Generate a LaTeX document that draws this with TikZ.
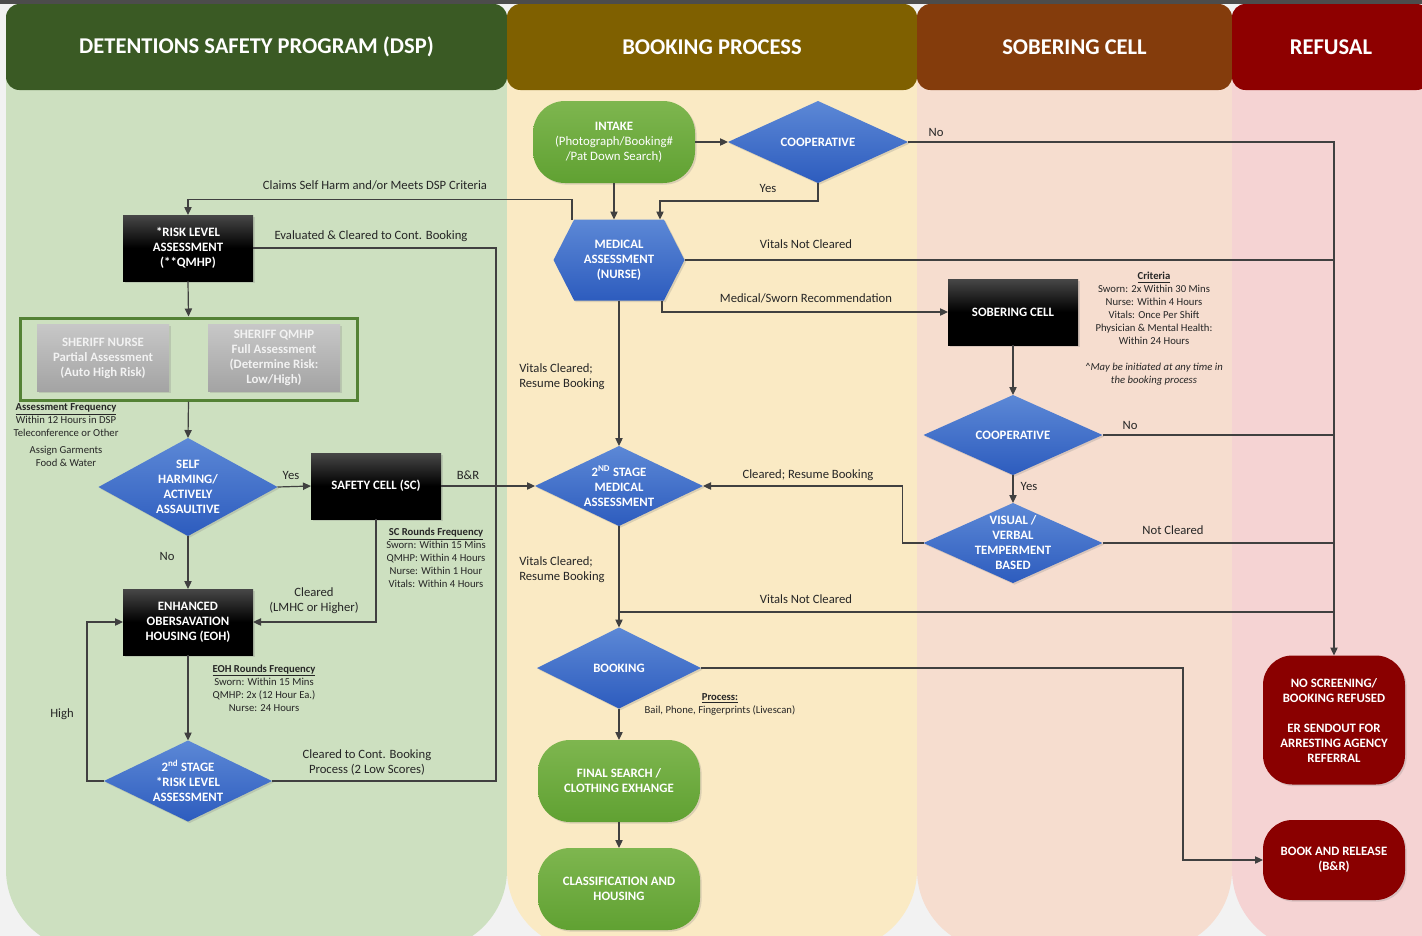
\documentclass[tikz,border=0pt]{standalone}
\usepackage{fontspec}
\setmainfont{Carlito}
\usetikzlibrary{arrows.meta,calc,positioning,shapes.geometric,shapes.symbols,shadows}

\definecolor{pagebg}{HTML}{F2F2F2}
\definecolor{dspdark}{HTML}{3A5A24}
\definecolor{dsplight}{HTML}{CDE0C0}
\definecolor{bookdark}{HTML}{7F6000}
\definecolor{booklight}{HTML}{FAEAC4}
\definecolor{sobdark}{HTML}{843C0C}
\definecolor{soblight}{HTML}{F6DDCF}
\definecolor{refdark}{HTML}{8E0000}
\definecolor{reflight}{HTML}{F5D3D3}
\definecolor{flowline}{HTML}{404040}
\definecolor{decitop}{HTML}{5C88D6}
\definecolor{decibot}{HTML}{2D5CBE}
\definecolor{termtop}{HTML}{7EB64F}
\definecolor{termbot}{HTML}{60A132}
\definecolor{framegreen}{HTML}{548235}
\definecolor{refbox}{HTML}{8A0000}
\definecolor{textdark}{HTML}{262626}

\newcommand{\boxfont}{\fontsize{9.6}{11.25}\selectfont\bfseries}
\newcommand{\lblfont}{\fontsize{9.5}{11.25}\selectfont}
\newcommand{\notefont}{\fontsize{8}{9.75}\selectfont}
\newcommand{\headfont}{\fontsize{16.9}{18}\selectfont\bfseries}

\tikzset{
  flow/.style={draw=flowline, line width=0.9pt},
  arr/.style={flow, -{Triangle[length=6pt,width=5.5pt]}},
  softshadow/.style={drop shadow={opacity=0.25,shadow xshift=1.2pt,shadow yshift=-1.2pt}},
  decision/.style={diamond, inner sep=0pt, outer sep=0pt, top color=decitop, bottom color=decibot, softshadow},
  dectext/.style={text=white, font=\boxfont, align=center, inner sep=0pt},
  hexa/.style={signal, signal to=east and west, signal pointer angle=126, inner sep=0pt, outer sep=0pt,
    minimum width=98.25pt, minimum height=60.75pt, top color=decitop, bottom color=decibot, softshadow},
  blackbox/.style={rectangle, inner sep=0pt, outer sep=0pt, minimum width=97.5pt, minimum height=49.5pt,
    top color=black!72, bottom color=black, middle color=black, text=white, font=\boxfont, align=center, softshadow},
  graybox/.style={rectangle, inner sep=0pt, minimum width=99pt, minimum height=50.25pt,
    top color=black!22, bottom color=black!36, text=white!95!black, font=\boxfont, align=center, softshadow},
  terminal/.style={rectangle, rounded corners=24pt, inner sep=0pt, outer sep=0pt, minimum width=121.5pt, minimum height=61.5pt,
    top color=termtop, bottom color=termbot, text=white, font=\boxfont, align=center, softshadow},
  refusalbox/.style={rectangle, rounded corners=22pt, inner sep=0pt, outer sep=0pt, minimum width=106.5pt,
    fill=refbox, text=white, font=\boxfont, align=center, softshadow},
  header/.style={rectangle, rounded corners=10pt, minimum height=64.5pt, text=white, font=\headfont},
  lbl/.style={font=\lblfont, text=textdark, inner sep=0pt, align=center},
  note/.style={font=\notefont, text=textdark, inner sep=0pt, align=center},
}

\begin{document}
\begin{tikzpicture}[x=0.75pt,y=0.75pt,yscale=-1,xscale=1]
\useasboundingbox (0,0) rectangle (1422,936);

%Lanes
\fill[pagebg] (0,0) rectangle (1422,936);
\begin{scope}
\clip (0,0) rectangle (1422,936);
\fill[dsplight, rounded corners=60pt] (6,60) rectangle (507,950);
\fill[dsplight] (6,60) rectangle (507,300);
\fill[booklight, rounded corners=60pt] (507,60) rectangle (917,950);
\fill[booklight] (507,60) rectangle (917,300);
\fill[soblight, rounded corners=60pt] (917,60) rectangle (1232,950);
\fill[soblight] (917,60) rectangle (1232,300);
\fill[reflight, rounded corners=60pt] (1232,60) rectangle (1480,950);
\fill[reflight] (1232,60) rectangle (1480,300);
\end{scope}
\fill[black!70] (0,0) rectangle (1422,3.5);

%Headers
\node[header, fill=dspdark, minimum width=375.75pt] (dsphead) at (256.5,47) {DETENTIONS SAFETY PROGRAM (DSP)};
\node[header, fill=bookdark, minimum width=307.5pt] (bookhead) at (712,47) {BOOKING PROCESS};
\node[header, fill=sobdark, minimum width=236.25pt] (sobhead) at (1074.5,47) {SOBERING CELL};
\node[header, fill=refdark, minimum width=148.5pt] (refhead) at (1331,47) {REFUSAL};

%Booking Process Nodes
\node[terminal] (intake) at (614,142) {INTAKE\\\mdseries(Photograph/Booking\#\\\mdseries/Pat Down Search)};
\node[decision, minimum width=135pt, minimum height=61.5pt, label={[dectext]center:COOPERATIVE}] (coopa) at (818,142) {};
\node[hexa, label={[dectext]center:{MEDICAL\\ASSESSMENT\\(NURSE)}}] (medical) at (619,260) {};
\node[decision, minimum width=126pt, minimum height=60pt, label={[dectext]center:{2\textsuperscript{ND} STAGE\\MEDICAL\\ASSESSMENT}}] (stagemed) at (619,486) {};
\node[decision, minimum width=123pt, minimum height=60.75pt, label={[dectext]center:BOOKING}] (booking) at (619,668) {};
\node[terminal] (finalsearch) at (619,781) {FINAL SEARCH /\\CLOTHING EXHANGE};
\node[terminal] (classhousing) at (619,889) {CLASSIFICATION AND\\HOUSING};

%DSP Nodes
\node[blackbox] (risk) at (188,248) {*RISK LEVEL\\ASSESSMENT\\(**QMHP)};
\node[draw=framegreen, line width=2.25pt, minimum width=252.75pt, minimum height=61.5pt, inner sep=0pt] (riskframe) at (188.5,359) {};
\node[graybox] (sheriffnurse) at (103,358) {SHERIFF NURSE\\Partial Assessment\\(Auto High Risk)};
\node[graybox] (sheriffqmhp) at (274,358) {SHERIFF QMHP\\Full Assessment\\(Determine Risk:\\Low/High)};
\node[decision, minimum width=134.25pt, minimum height=73.5pt, label={[dectext]center:{SELF\\HARMING/\\ACTIVELY\\ASSAULTIVE}}] (selfharm) at (188,487) {};
\node[blackbox] (safety) at (376,486) {SAFETY CELL (SC)};
\node[blackbox] (eoh) at (188,622) {ENHANCED\\OBERSAVATION\\HOUSING (EOH)};
\node[decision, minimum width=126pt, minimum height=60.75pt, label={[dectext]center:{2\textsuperscript{nd} STAGE\\*RISK LEVEL\\ASSESSMENT}}] (stagerisk) at (188,781) {};

%Sobering Nodes
\node[blackbox] (sobering) at (1013,312) {SOBERING CELL};
\node[decision, minimum width=134.25pt, minimum height=60pt, label={[dectext]center:COOPERATIVE}] (coopb) at (1013,435) {};
\node[decision, minimum width=134.25pt, minimum height=60pt, label={[dectext]center:{VISUAL /\\VERBAL\\TEMPERMENT\\BASED}}] (visual) at (1013,543) {};

%Refusal Nodes
\node[refusalbox, minimum height=96.75pt] (refused) at (1334,720) {NO SCREENING/\\BOOKING REFUSED\\[11.25pt]ER SENDOUT FOR\\ARRESTING AGENCY\\REFERRAL};
\node[refusalbox, minimum height=60pt] (bookrel) at (1334,860) {BOOK AND RELEASE\\(B\&R)};

%Connectors
\coordinate (vnc) at (619,612);
\draw[arr] (intake.east) -- (coopa.west);
\draw[arr] (intake.south) -- (intake.south |- medical.north);
\draw[arr] (coopa.south) -- ++(0,18) -| ($(medical.north)+(41,0)$);
\draw[arr] (coopa.east) -| (refused.north);
\draw[flow] (medical.east) -- (medical.east -| refused.north);
\draw[arr] ($(medical.south)+(43,0)$) |- (sobering.west);
\draw[arr] ($(medical.north)+(-47,0)$) -- ++(0,-20) -| (risk.north);
\draw[arr] (medical.south) -- (stagemed.north);
\draw[arr] (risk.south) -- (riskframe.north);
\draw[arr] (riskframe.south) -- (selfharm.north);
\draw[arr] (selfharm.east) -- (safety.west);
\draw[arr] (selfharm.south) -- (eoh.north);
\draw[arr] (safety.south) |- (eoh.east);
\draw[arr] (eoh.south) -- (stagerisk.north);
\draw[arr] (stagerisk.west) -- ++(-17,0) |- (eoh.west);
\draw[flow] (risk.east) -- ++(243,0) |- (stagerisk.east);
\draw[arr] (safety.east) -- (stagemed.west);
\draw[arr] (stagemed.south) -- (booking.north);
\draw[flow] (vnc) -- (vnc -| refused.north);
\draw[arr] (sobering.south) -- (coopb.north);
\draw[flow] (coopb.east) -- (coopb.east -| refused.north);
\draw[arr] (coopb.south) -- (visual.north);
\draw[flow] (visual.east) -- (visual.east -| refused.north);
\draw[arr] (visual.west) -- ++(-21,0) |- (stagemed.east);
\draw[arr] (booking.east) -- ++(482,0) |- (bookrel.west);
\draw[arr] (booking.south) -- (finalsearch.north);
\draw[arr] (finalsearch.south) -- (classhousing.north);

% Text Node
\node[lbl] (lcoopno) at (936,132) {No};
\node[lbl] (lcoopyes) at (768,188) {Yes};
\node[lbl] (lvitalsa) at (806,244) {Vitals Not Cleared};
\node[lbl] (lsworn) at (806,298) {Medical/Sworn Recommendation};
\node[lbl] (lclaims) at (375,185) {Claims Self Harm and/or Meets DSP Criteria};
\node[lbl] (leval) at (371,236) {Evaluated \& Cleared to Cont. Booking};
\node[lbl, align=left, anchor=west] (lclearedA) at (519,377) {Vitals Cleared;\\Resume Booking};
\node[lbl] (lresume) at (808,475) {Cleared; Resume Booking};
\node[lbl] (lbr) at (468,475) {B\&R};
\node[lbl] (lharmyes) at (291,475) {Yes};
\node[lbl] (lharmno) at (167,556) {No};
\node[lbl] (llmhc) at (314,601) {Cleared\\(LMHC or Higher)};
\node[lbl] (lhigh) at (62,714) {High};
\node[lbl] (llow) at (367,762) {Cleared to Cont. Booking\\Process (2 Low Scores)};
\node[lbl, align=left, anchor=west] (lclearedB) at (519,570) {Vitals Cleared;\\Resume Booking};
\node[lbl] (lvitalsb) at (806,599) {Vitals Not Cleared};
\node[lbl] (lcoopbno) at (1130,425) {No};
\node[lbl] (lcoopbyes) at (1029,486) {Yes};
\node[lbl] (lnotcleared) at (1173,530) {Not Cleared};

% Notes
\node[note] (assessfreq) at (66,435.5) {\underline{\textbf{Assessment Frequency}}\\Within 12 Hours in DSP\\Teleconference or Other\\[3pt]Assign Garments\\Food \& Water};
\node[note] (scfreq) at (436,558) {\underline{\textbf{SC Rounds Frequency}}\\Sworn: Within 15 Mins\\QMHP: Within 4 Hours\\Nurse: Within 1 Hour\\Vitals: Within 4 Hours};
\node[note] (eohfreq) at (264,688) {\underline{\textbf{EOH Rounds Frequency}}\\Sworn: Within 15 Mins\\QMHP: 2x (12 Hour Ea.)\\Nurse: 24 Hours};
\node[note] (criteria) at (1154,329) {\underline{\textbf{Criteria}}\\Sworn: 2x Within 30 Mins\\Nurse: Within 4 Hours\\Vitals: Once Per Shift\\Physician \& Mental Health:\\Within 24 Hours\\[9.75pt]\textit{\textasciicircum May be initiated at any time in}\\\textit{the booking process}};
\node[note] (process) at (720,704.5) {\underline{\textbf{Process:}}\\Bail, Phone, Fingerprints (Livescan)};

\end{tikzpicture}
\end{document}
